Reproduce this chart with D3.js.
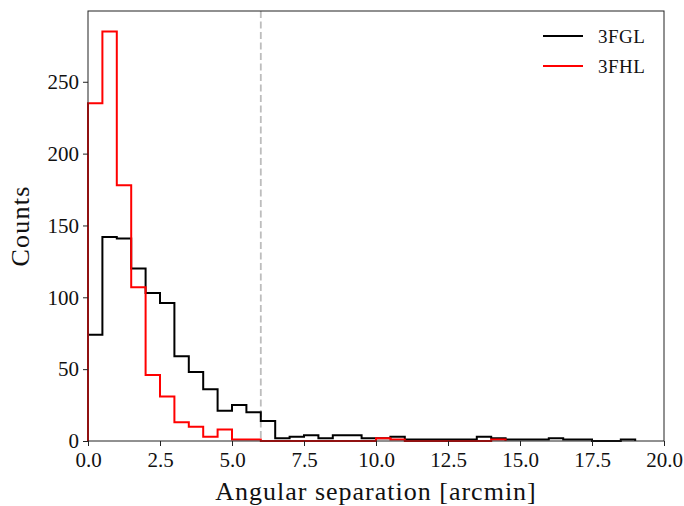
<!DOCTYPE html>
<html><head><meta charset="utf-8">
<script src="https://cdn.jsdelivr.net/npm/d3@7/dist/d3.min.js"></script>
<style>body{margin:0;background:#fff}</style></head>
<body>
<svg id="chart" width="684" height="506"></svg>
<script>
// ---- data ----
const binStart = 0;
const binWidth = 0.5;
const seriesNames = ["3FGL", "3FHL"];
const seriesColors = ["#000000", "#ff0000"];
const fglCounts = [74,142,141,120,103,96,59,48,36,21,25,20,14,2,3,4,2,4,4,2,2,3,1,1,1,1,1,3,2,1,1,1,2,1,1,0,0,1];
const fhlCounts = [235,285,178,107,46,31,13,10,3,8,1,1,0,0,0,0,0,0,0,0,2,1,0,0,0,0,0,0,1];
const xTicks = [0,2.5,5,7.5,10,12.5,15,17.5,20];
const yTicks = [0,50,100,150,200,250];
const cutValue = 6;
const xLabel = "Angular separation [arcmin]";
const yLabel = "Counts";

// ---- layout ----
const W = 684, H = 506;
const m = {left: 88, right: 20, top: 11, bottom: 65};
const svg = d3.select("#chart");
const font = "'Liberation Serif', serif";
const x = d3.scaleLinear().domain([0, 20]).range([m.left, W - m.right]);
const yMax = d3.max([...fglCounts, ...fhlCounts]) * 1.05;
const y = d3.scaleLinear().domain([0, yMax]).range([H - m.bottom, m.top]);

function stepPath(counts) {
  const pts = [[binStart, 0]];
  counts.forEach((c, i) => {
    const a = binStart + i * binWidth, b = a + binWidth;
    pts.push([a, c]); pts.push([b, c]);
  });
  pts.push([binStart + counts.length * binWidth, 0]);
  return d3.line().x(d => x(d[0])).y(d => y(d[1]))(pts);
}

const g = svg.append("g");
// cut line
g.append("line")
  .attr("x1", x(cutValue)).attr("x2", x(cutValue))
  .attr("y1", y(yMax)).attr("y2", y(0))
  .attr("stroke", "#bdbdbd").attr("stroke-width", 1.8).attr("stroke-dasharray", "7,3.5");

[fglCounts, fhlCounts].forEach((cs, i) => {
  g.append("path").attr("d", stepPath(cs))
    .attr("fill", "none").attr("stroke", seriesColors[i])
    .attr("stroke-width", 2).attr("stroke-linejoin", "miter");
});

// frame
g.append("rect").attr("x", m.left).attr("y", m.top)
  .attr("width", W - m.left - m.right).attr("height", H - m.top - m.bottom)
  .attr("fill", "none").attr("stroke", "#222").attr("stroke-width", 1);

// axes
const xAxis = svg.append("g").attr("transform", `translate(0,${H - m.bottom})`)
  .call(d3.axisBottom(x).tickValues(xTicks).tickFormat(d3.format(".1f")).tickSize(5).tickPadding(6));
const yAxis = svg.append("g").attr("transform", `translate(${m.left},0)`)
  .call(d3.axisLeft(y).tickValues(yTicks).tickFormat(d3.format("d")).tickSize(5).tickPadding(4));
[xAxis, yAxis].forEach(a => {
  a.select(".domain").remove();
  a.selectAll(".tick line").attr("stroke", "#222");
  a.selectAll(".tick text").attr("font-family", font).attr("font-size", 21).attr("fill", "#111");
});

// labels
svg.append("text").attr("x", (m.left + W - m.right) / 2).attr("y", 500)
  .attr("text-anchor", "middle").attr("font-family", font).attr("font-size", 26)
  .attr("letter-spacing", 1).attr("fill", "#111").text(xLabel);
svg.append("text").attr("transform", `translate(29,${(m.top + H - m.bottom) / 2}) rotate(-90)`)
  .attr("text-anchor", "middle").attr("font-family", font).attr("font-size", 26)
  .attr("letter-spacing", 1.2).attr("fill", "#111").text(yLabel);

// legend
seriesNames.forEach((n, i) => {
  const ly = 36 + i * 30;
  svg.append("line").attr("x1", 543).attr("x2", 583).attr("y1", ly).attr("y2", ly)
    .attr("stroke", seriesColors[i]).attr("stroke-width", 2);
  svg.append("text").attr("x", 598).attr("y", ly + 6.5)
    .attr("font-family", font).attr("font-size", 19).attr("letter-spacing", 0.5)
    .attr("fill", "#111").text(n);
});
</script>
</body></html>
